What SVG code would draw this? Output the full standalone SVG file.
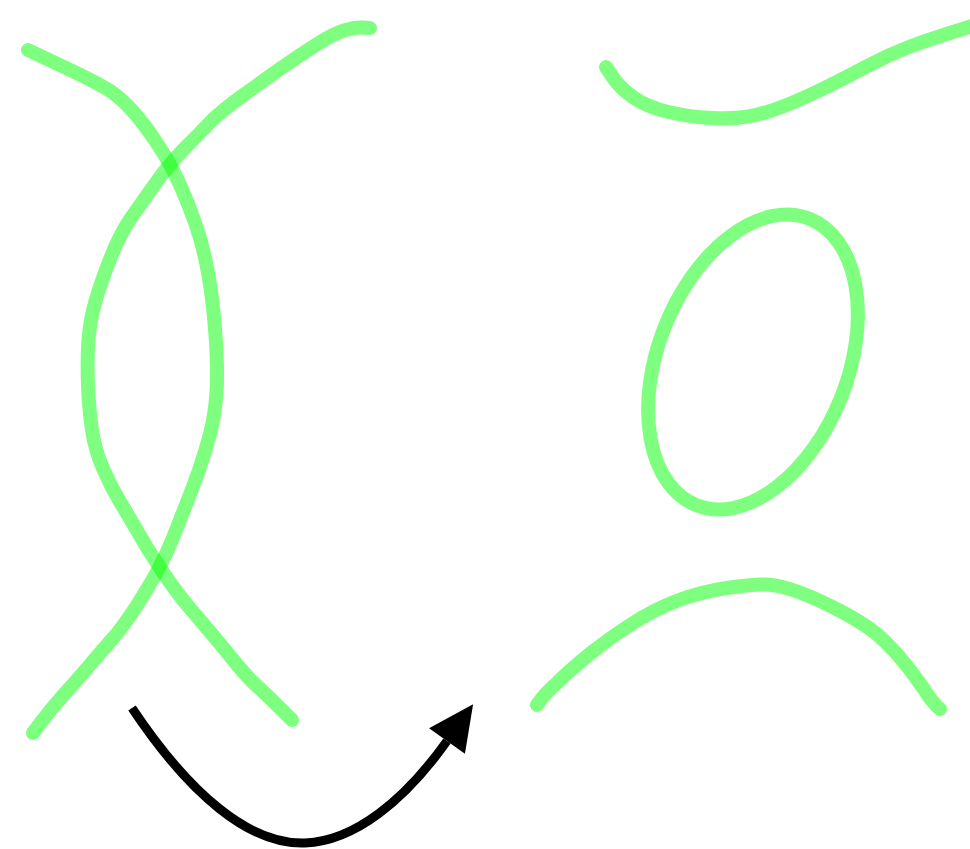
<svg xmlns="http://www.w3.org/2000/svg" width="970" height="849" viewBox="0 0 970 849">
<style>
.ink{fill:none;stroke:#00ff00;stroke-opacity:0.5;stroke-width:14;stroke-linecap:round;stroke-linejoin:round}
.arrow{fill:none;stroke:#000;stroke-width:9}
</style>
<defs>
<marker id="head" markerUnits="userSpaceOnUse" markerWidth="46" markerHeight="46" viewBox="0 -23 46 46" refX="0" refY="0" orient="auto" overflow="visible">
<path d="M0,-22 L45,0 L0,22 Z" fill="#000"/>
</marker>
</defs>
<rect width="970" height="849" fill="#fff"/>
<g id="strokeA"><path class="ink" d="M28,50 L64,67 Q100,84 111,91.5 Q122,99 133.5,112 Q145,125 157.5,144 Q170,163 178.5,181.5 Q187,200 195,222.5 Q203,245 208,272.5 Q213,300 215.5,335 Q218,370 216.5,392.5 Q215,415 210,434 Q205,453 199,470 Q193,487 186.5,503.5 Q180,520 173.5,536.5 Q167,553 158.5,569 Q150,585 136.5,606 Q123,627 111.5,640 Q100,653 88.5,666.5 Q77,680 63.5,695 Q50,710 33,733"/></g>
<g id="strokeB"><path class="ink" d="M370,28 L362.5,27.5 Q355,27 344,30.5 Q333,34 316.5,44.5 Q300,55 283.5,66.5 Q267,78 243.5,95 Q220,112 210,122.5 Q200,133 185,148 Q170,163 155,184 Q140,205 130,219.5 Q120,234 110.5,258 Q101,282 95.5,301 Q90,320 88.5,340 Q87,360 88,385 Q89,410 92,430 Q95,450 103,468.5 Q111,487 121,503.5 Q131,520 140.5,536.5 Q150,553 163.5,573 Q177,593 188.5,606.5 Q200,620 211,633 Q222,646 234.5,661.5 Q247,677 257,686 Q267,695 292,720"/></g>
<g id="strokeC"><path class="ink" d="M606,67 L613,77.5 Q620,88 633.5,97.5 Q647,107 668.5,112 Q690,117 711.5,118 Q733,119 748,116.5 Q763,114 781.5,107 Q800,100 823.5,88.5 Q847,77 868.5,65.5 Q890,54 911.5,46 Q933,38 975,25"/></g>
<g id="loop"><ellipse class="ink" cx="0" cy="0" rx="95" ry="154" transform="translate(753,362) rotate(21.5)"/></g>
<g id="strokeD"><path class="ink" d="M537,705 Q545,693 557.5,682.5 Q570,670 588.5,655 Q607,640 630,625 Q653,610 676.5,601 Q700,592 726.5,588 Q753,584 766.5,584.5 Q780,585 800,592.5 Q820,600 845,613.5 Q870,627 883.5,640 Q897,653 908.5,668 Q920,683 926.5,693 Q933,703 940,709"/></g>
<g id="connectors"><path class="arrow" d="M132,708 C190,795 250,845 305,843 C355,841 405,800 447,741" marker-end="url(#head)"/></g>
</svg>
